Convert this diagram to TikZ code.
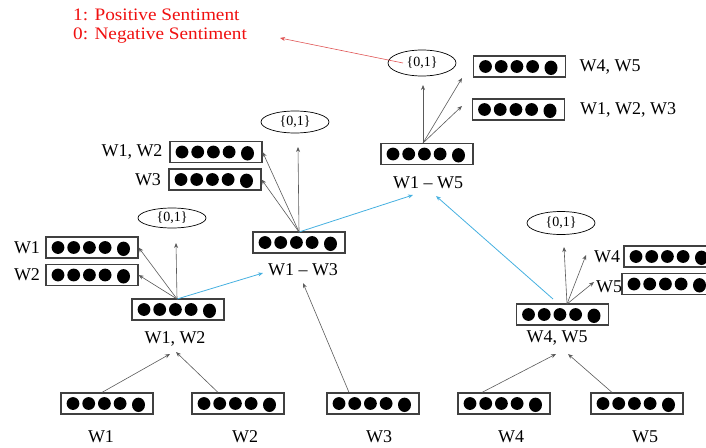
\documentclass[tikz,border=0pt]{standalone}
\usepackage{fontspec}
\setmainfont{Liberation Serif}
\newfontfamily\notefont[FakeStretch=1.1]{Liberation Serif}
\usetikzlibrary{arrows.meta,shapes.geometric}

\definecolor{boxline}{HTML}{404040}
\definecolor{linkgray}{HTML}{5A5A5A}
\definecolor{mergeblue}{HTML}{45B0E0}
\definecolor{notered}{HTML}{F01010}
\definecolor{notearrow}{HTML}{E05555}

\tikzset{
  vecbox/.style={draw=boxline, line width=1.2pt, minimum width=92pt, minimum height=21pt,
    inner sep=0pt,
    path picture={
      \foreach \dx in {-34,-18.3,-2.6,13.1}
        {\fill ([xshift=\dx pt]path picture bounding box.center) circle[radius=6.4pt];}
      \fill ([xshift=31.5pt,yshift=-1.3pt]path picture bounding box.center)
        ellipse[x radius=6.5pt, y radius=7.2pt];
    }},
  lbl/.style={inner sep=0pt, font=\fontsize{18}{20}\selectfont},
  outcome/.style={draw, ellipse, line width=0.7pt, minimum width=68pt, minimum height=22pt,
    inner sep=0pt, font=\fontsize{14}{16}\selectfont},
  link/.style={draw=linkgray, line width=0.6pt, -{Stealth[length=5pt,width=4pt]}},
  merge/.style={draw=mergeblue, line width=0.8pt, -{Stealth[length=5pt,width=4pt]}},
  note/.style={inner sep=0pt, anchor=west, text=notered, font=\notefont\fontsize{17.5}{20}\selectfont},
}

\begin{document}
\begin{tikzpicture}[x=1pt,y=-1pt]
\useasboundingbox (0,0) rectangle (706,447);
\clip (0,0) rectangle (706,447);

% sentiment legend
\node[note] (pos) at (73,15) {1: Positive Sentiment};
\node[note] (neg) at (73,36) {0: Negative Sentiment};

% word vectors
\node[vecbox] (b1) at (107,403.5) {};
\node[vecbox] (b2) at (238,403.5) {};
\node[vecbox] (b3) at (373,403.5) {};
\node[vecbox] (b4) at (504,403.5) {};
\node[vecbox] (b5) at (637,403.5) {};
\node[lbl] (l1) at (101,437) {W1};
\node[lbl] (l2) at (245,437) {W2};
\node[lbl] (l3) at (379,437) {W3};
\node[lbl] (l4) at (511,437) {W4};
\node[lbl] (l5) at (645,437) {W5};

% composed phrase vectors
\node[vecbox] (n12) at (178,309.5) {};
\node[lbl] (m12) at (175,339) {W1, W2};
\node[vecbox] (n13) at (299,242.5) {};
\node[lbl] (m13) at (303,270) {W1 -- W3};
\node[vecbox] (n15) at (427,154) {};
\node[lbl] (m15) at (428,183) {W1 -- W5};
\node[vecbox] (n45) at (562.5,314.5) {};
\node[lbl] (m45) at (557,338) {W4, W5};

% reconstructed children
\node[vecbox] (o1) at (92,247.5) {};
\node[lbl] (q1) at (27,247.5) {W1};
\node[vecbox] (o2) at (92,275) {};
\node[lbl] (q2) at (27,275) {W2};
\node[vecbox] (o12) at (216,152) {};
\node[lbl] (q12) at (132,152) {W1, W2};
\node[vecbox] (o3) at (215,179.5) {};
\node[lbl] (q3) at (148,179.5) {W3};
\node[vecbox] (o45) at (519.5,66.5) {};
\node[lbl] (q45) at (610,67) {W4, W5};
\node[vecbox] (o123) at (518.5,109.5) {};
\node[lbl] (q123) at (628,110) {W1, W2, W3};
\node[vecbox] (o4) at (670,256.5) {};
\node[lbl] (q4) at (607,257) {W4};
\node[vecbox] (o5) at (668,284) {};
\node[lbl] (q5) at (609,287) {W5};

% sentiment outputs
\node[outcome, minimum height=20pt] (e12) at (172,218) {\{0,1\}};
\node[outcome] (e13) at (295,122) {\{0,1\}};
\node[outcome, minimum height=26pt] (e15) at (422,63) {\{0,1\}};
\node[outcome, minimum height=23pt] (e45) at (561,223) {\{0,1\}};

% junction points and free arrow ends
\coordinate (c12) at (177,299);
\coordinate (c13) at (299,232);
\coordinate (c15) at (423,143);
\coordinate (c45) at (567,304);
\coordinate (u12) at (176,243);
\coordinate (u13) at (298,147);
\coordinate (u15) at (423,85);
\coordinate (u45) at (564,247);
\coordinate (t45) at (462,78);
\coordinate (t123) at (462,106);
\coordinate (t4) at (586,255);
\coordinate (t5) at (594,282);
\coordinate (s45) at (553,299);
\coordinate (a13) at (263,273);
\coordinate (a15) at (413,195);
\coordinate (a15b) at (436,196);
\coordinate (p1) at (170,354);
\coordinate (p2) at (176,352);
\coordinate (p3) at (303,283);
\coordinate (p4) at (556,354);
\coordinate (p5) at (568,354);
\coordinate (rs) at (403,63);
\coordinate (rt) at (280,38);

% composition
\draw[link] ([xshift=-5pt]b1.north) -- (p1);
\draw[link] ([xshift=-20pt]b2.north) -- (p2);
\draw[link] ([xshift=-24pt]b3.north) -- (p3);
\draw[link] ([xshift=-22pt]b4.north) -- (p4);
\draw[link] ([xshift=-25pt]b5.north) -- (p5);

% merges into larger phrases
\draw[merge] (c12) -- (a13);
\draw[merge] (c13) -- (a15);
\draw[merge] (s45) -- (a15b);

% reconstruction and classification
\draw[link] (c12) -- (u12);
\draw[link] (c12) -- (o1.east);
\draw[link] (c12) -- (o2.east);
\draw[link] (c13) -- (u13);
\draw[link] (c13) -- (o12.east);
\draw[link] (c13) -- (o3.east);
\draw[link] (c15) -- (u15);
\draw[link] (c15) -- (t45);
\draw[link] (c15) -- (t123);
\draw[link] (c45) -- (u45);
\draw[link] (c45) -- (t4);
\draw[link] (c45) -- (t5);

% legend pointer
\draw[draw=notearrow, line width=0.6pt, -{Stealth[length=5pt,width=4pt]}] (rs) -- (rt);
\end{tikzpicture}
\end{document}
